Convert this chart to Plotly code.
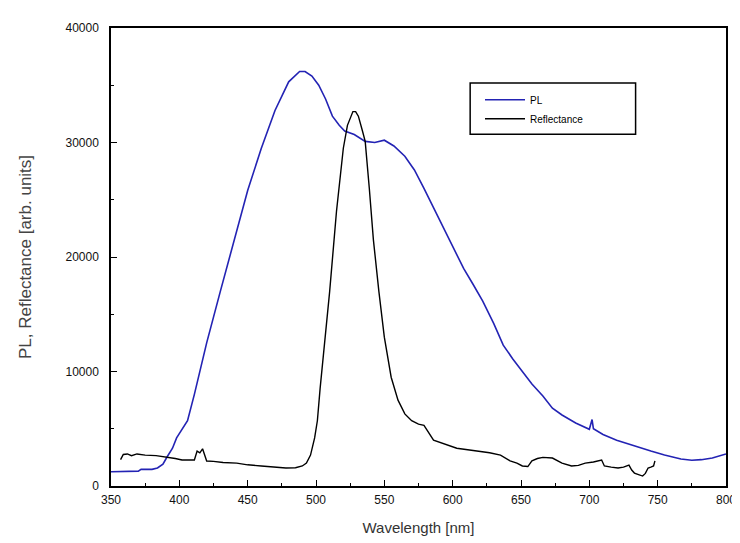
import plotly.graph_objects as go

# PL spectrum (blue)
pl_wl = [350, 360, 370, 372, 380, 384, 388, 391, 395, 398, 402, 406, 411, 420, 430, 440, 450,
         460, 470, 480, 485, 488, 492, 497, 502, 507, 512, 517, 521, 528, 536, 543, 550, 557,
         565, 572, 579, 586, 593, 600, 608, 615, 622, 630, 637, 644, 651, 658, 666, 673, 680,
         690, 700, 701, 702, 703, 705, 710, 720, 730, 738, 745, 755, 767, 775, 782, 790, 796, 800]
pl_val = [1250, 1250, 1300, 1450, 1450, 1570, 1900, 2530, 3300, 4200, 5000, 5700, 8000, 12500,
          17000, 21500, 25800, 29500, 32800, 35300, 35900, 36200, 36200, 35800, 35000, 33800,
          32300, 31500, 31000, 30700, 30100, 30000, 30200, 29700, 28800, 27600, 26000, 24300,
          22600, 20800, 19000, 17600, 16150, 14200, 12300, 11100, 10000, 8900, 7860, 6800,
          6200, 5500, 4950, 5300, 5800, 5000, 4850, 4500, 4000, 3600, 3300, 3050, 2700, 2360,
          2250, 2300, 2450, 2700, 2800]

# Reflectance spectrum (black)
rf_wl = [357, 359, 362, 365, 369, 375, 383, 391, 397, 402, 408, 411, 413, 415, 417, 418, 420,
         425, 432, 442, 450, 460, 470, 478, 485, 490, 493, 496, 499, 501, 503, 506, 510, 515,
         520, 523, 525, 527, 529, 531, 534, 536, 539, 542, 546, 550, 555, 560, 565, 570, 575,
         579, 586, 595, 603, 615, 627, 635, 642, 647, 651, 655, 658, 662, 666, 673, 680, 687,
         692, 697, 703, 709, 711, 716, 721, 725, 729, 731, 733, 736, 739, 741, 743, 745, 747, 748]
rf_val = [2300, 2750, 2800, 2650, 2800, 2700, 2650, 2530, 2400, 2270, 2250, 2270, 3050, 2900,
          3250, 2950, 2180, 2150, 2050, 2000, 1850, 1750, 1650, 1570, 1600, 1750, 2000, 2700,
          4200, 5700, 8500, 12000, 17000, 24000, 29500, 31500, 32200, 32700, 32700, 32300,
          31000, 30100, 26000, 21500, 17000, 13000, 9500, 7500, 6300, 5700, 5400, 5300, 4000,
          3600, 3300, 3100, 2900, 2700, 2200, 2000, 1750, 1700, 2200, 2400, 2500, 2440, 2000,
          1750, 1800, 2000, 2100, 2270, 1750, 1650, 1570, 1650, 1830, 1400, 1130, 1000, 870,
          1100, 1570, 1650, 1750, 2200]

x_ticks = [350, 400, 450, 500, 550, 600, 650, 700, 750, 800]
y_ticks = [0, 10000, 20000, 30000, 40000]
y_tick_text = ["0", "10000", "20000", "30000", "40000"]

fig = go.Figure()
fig.add_trace(go.Scatter(x=pl_wl, y=pl_val, mode="lines", name="PL",
                         line=dict(color="#2323b4", width=1.6)))
fig.add_trace(go.Scatter(x=rf_wl, y=rf_val, mode="lines", name="Reflectance",
                         line=dict(color="#000000", width=1.4)))

tickfont = dict(family="Liberation Sans", size=12, color="#111111")

fig.update_layout(
    width=740, height=543,
    margin=dict(l=103, r=14, t=20, b=65),
    paper_bgcolor="white", plot_bgcolor="white",
    showlegend=True,
    legend=dict(x=0.6, y=0.875, xanchor="left", yanchor="top",
                bgcolor="rgba(0,0,0,0)", borderwidth=0,
                font=dict(family="Liberation Sans", size=10, color="#000000"),
                itemwidth=40, tracegroupgap=0),
    shapes=[dict(type="rect", xref="paper", yref="paper",
                 x0=0.584, x1=0.853, y0=0.768, y1=0.880,
                 line=dict(color="black", width=1.5), fillcolor="rgba(0,0,0,0)")],
    xaxis=dict(range=[350, 800], tickvals=x_ticks, ticks="inside", ticklen=6,
               tickwidth=1, tickcolor="black", showgrid=False, zeroline=False,
               showline=True, linecolor="black", linewidth=1.5, mirror=True,
               tickfont=tickfont, ticklabelstandoff=2,
               minor=dict(dtick=25, ticks="inside", ticklen=3, tickcolor="black"),
               title=dict(text="Wavelength [nm]", standoff=16,
                          font=dict(family="Liberation Sans", size=15, color="#333333"))),
    yaxis=dict(range=[0, 40000], tickvals=y_ticks, ticktext=y_tick_text, ticks="inside",
               ticklen=6, tickwidth=1, tickcolor="black", showgrid=False, zeroline=False,
               showline=True, linecolor="black", linewidth=1.5, mirror=True,
               tickfont=tickfont, ticklabelstandoff=8,
               minor=dict(dtick=5000, ticks="inside", ticklen=3, tickcolor="black"),
               title=dict(text="PL, Reflectance [arb. units]", standoff=30,
                          font=dict(family="Liberation Sans", size=17, color="#444444"))),
)

fig.write_html("out.html")
